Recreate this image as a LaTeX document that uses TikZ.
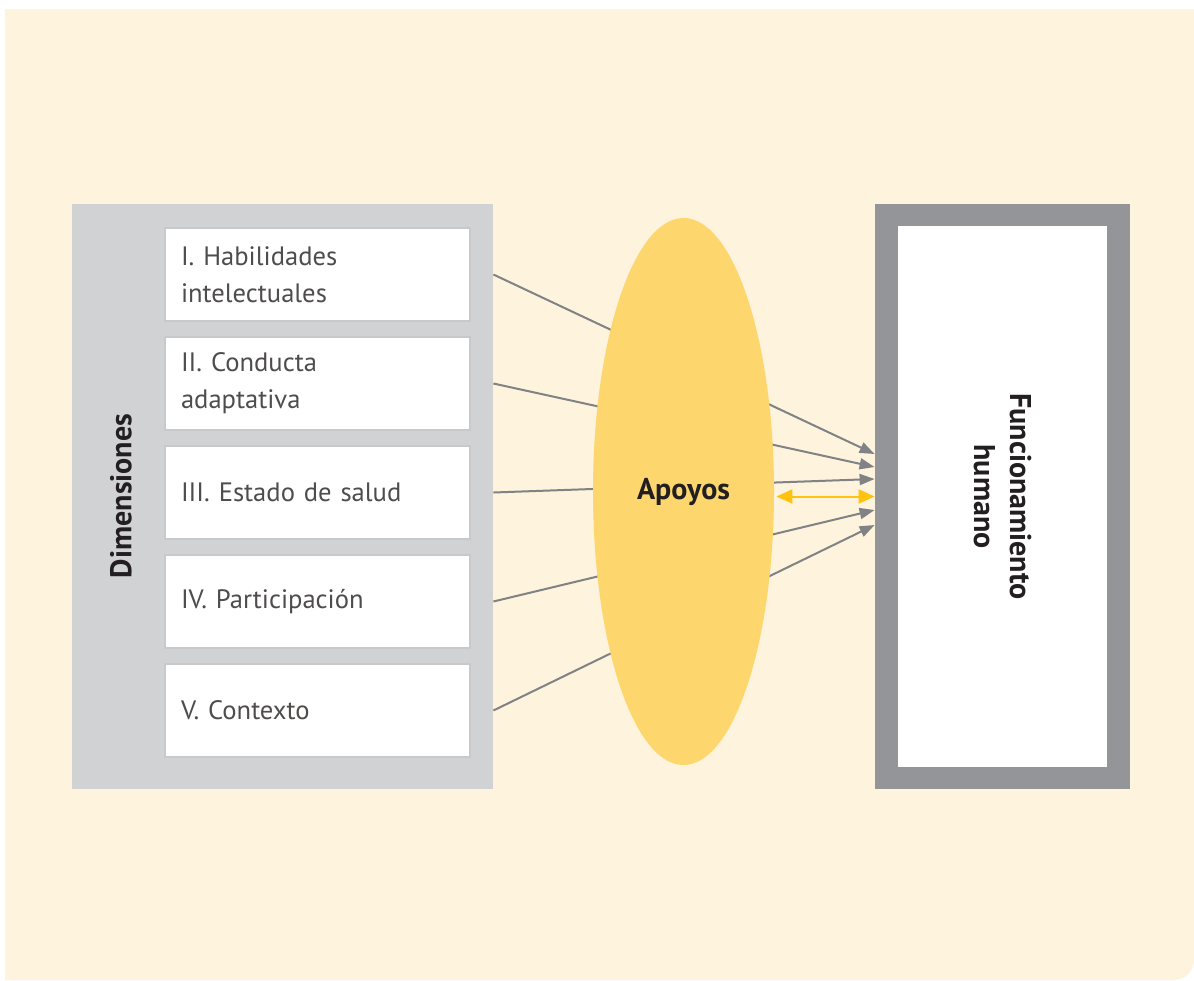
\documentclass[tikz,border=0pt]{standalone}
\usepackage{fontspec}
\setmainfont{PT Sans}
\usetikzlibrary{shapes.geometric,arrows.meta}

\definecolor{crema}{HTML}{FEF3DC}
\definecolor{panelgris}{HTML}{D1D2D4}
\definecolor{bordegris}{HTML}{C8C9CB}
\definecolor{marcogris}{HTML}{939598}
\definecolor{lineagris}{HTML}{808285}
\definecolor{apoyo}{HTML}{FDD76E}
\definecolor{amarillo}{HTML}{FFC20E}
\definecolor{texto}{HTML}{231F20}

\tikzset{node distance=54.5pt}
\tikzset{
  dimbox/.style={draw=bordegris, line width=1pt, fill=white,
    minimum width=152.5pt, minimum height=46.5pt, text width=136.5pt,
    inner xsep=8pt, align=left, text=texto!80,
    font=\fontsize{13.3}{18.5}\selectfont},
  flecha/.style={draw=lineagris, line width=1pt,
    -{Triangle[length=7.5pt,width=5.5pt]}},
  titulo/.style={text=texto, font=\fontsize{15}{18}\selectfont\bfseries}
}

\begin{document}
\begin{tikzpicture}[x=0.5pt,y=-0.5pt]
      \useasboundingbox (0,0) rectangle (1194,980);
      \fill[crema] (5,9) -- (1194,9) [rounded corners=10pt] -- (1194,980) [sharp corners] -- (5,980) -- cycle;

      % dimensiones
      \node [fill=panelgris, minimum width=210.5pt, minimum height=292.5pt, inner sep=0] (dims) at (282.5,496.5) {};
      \node [titulo, rotate=90] (dimlab) at (121,496) {Dimensiones};
      \node [dimbox] (hab) at (317.5,274.5) {I. Habilidades\\intelectuales};
      \node [dimbox, below of=hab] (cond) {II. Conducta\\adaptativa};
      \node [dimbox, below of=cond] (salud) {III. Estado de salud};
      \node [dimbox, below of=salud] (part) {IV. Participación};
      \node [dimbox, below of=part] (ctx) {V. Contexto};

      % funcionamiento
      \node [fill=marcogris, minimum width=127.5pt, minimum height=292.5pt, inner sep=0] (func) at (1002.5,496.5) {};
      \node [fill=white, minimum width=104.5pt, minimum height=270.5pt, inner sep=0] (funcin) at (func) {};
      \node [titulo, rotate=-90, align=center] (funclab) at (funcin) {Funcionamiento\\humano};

      % links
      \coordinate (f1) at ([yshift=21.25pt]func.west);
      \coordinate (f2) at ([yshift=14.75pt]func.west);
      \coordinate (f3) at ([yshift=8.75pt]func.west);
      \coordinate (f4) at ([yshift=-6.75pt]func.west);
      \coordinate (f5) at ([yshift=-14.25pt]func.west);
      \draw [flecha] (hab.east -| dims.east) -- (f1);
      \draw [flecha] (cond.east -| dims.east) -- (f2);
      \draw [flecha] (salud.east -| dims.east) -- (f3);
      \draw [flecha] (part.east -| dims.east) -- (f4);
      \draw [flecha] (ctx.east -| dims.east) -- (f5);

      % apoyos
      \node [ellipse, fill=apoyo, minimum width=90.5pt, minimum height=273.5pt, inner sep=0, titulo] (apoyos) at (683.5,491.5) {Apoyos};
      \draw [amarillo, line width=1pt, {Triangle[length=8pt,width=7pt]}-{Triangle[length=8pt,width=7pt]}]
        ([xshift=1pt]apoyos.east |- func.west) -- (func.west);
\end{tikzpicture}
\end{document}
